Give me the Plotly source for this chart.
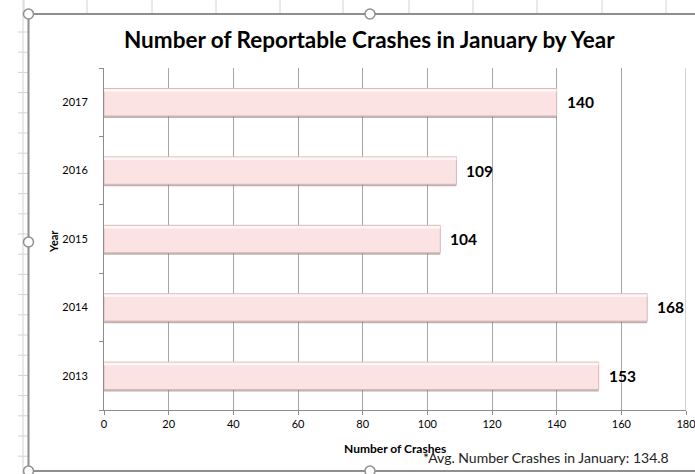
import plotly.graph_objects as go

# Reportable crashes in January, per year
years = ["2013", "2014", "2015", "2016", "2017"]
crashes = [153, 168, 104, 109, 140]
x_ticks = [0, 20, 40, 60, 80, 100, 120, 140, 160, 180]

avg_crashes = sum(crashes) / len(crashes)

W, H = 695, 474
FONT = "Lato"
X_MAX = 180


def px(x):
    return x / W


def py(y):
    return 1 - y / H


fig = go.Figure()

# soft drop shadow under each bar
fig.add_trace(go.Bar(
    y=years, x=crashes, orientation="h",
    width=0.4, offset=-0.23,
    marker=dict(color="rgba(140,115,115,0.55)", line=dict(width=0)),
    hoverinfo="skip", showlegend=False,
))
# main bar body
fig.add_trace(go.Bar(
    y=years, x=crashes, orientation="h",
    width=0.4, offset=-0.2,
    marker=dict(color="#fce3e3", line=dict(color="#d9b9b9", width=1)),
    hoverinfo="skip", showlegend=False,
))
# light highlight along the top edge
fig.add_trace(go.Bar(
    y=years, x=crashes, orientation="h",
    width=0.035, offset=0.155,
    marker=dict(color="#fff7f7", line=dict(width=0)),
    hoverinfo="skip", showlegend=False,
))

shapes = []
grid_gray = "#d4d4d4"

# worksheet cell lines around the chart object
for gx in [24, 87, 152, 216, 280, 343, 409, 473, 537, 602, 666]:
    shapes.append(dict(type="line", xref="paper", yref="paper",
                       x0=px(gx), x1=px(gx), y0=py(0), y1=py(13),
                       line=dict(color=grid_gray, width=1)))
shapes.append(dict(type="line", xref="paper", yref="paper",
                   x0=px(23), x1=px(23), y0=py(0), y1=py(H),
                   line=dict(color=grid_gray, width=1)))
k = 0
while 32 + 20.2 * k < H:
    gy = 32 + 20.2 * k
    shapes.append(dict(type="line", xref="paper", yref="paper",
                       x0=px(18), x1=px(28), y0=py(gy), y1=py(gy),
                       line=dict(color=grid_gray, width=1)))
    k += 1

# closing gridline at the right end of the value axis
shapes.append(dict(type="line", xref="x", yref="y domain",
                   x0=X_MAX, x1=X_MAX, y0=0, y1=1,
                   line=dict(color="#a6a6a6", width=1), layer="below"))

# chart object frame
shapes.append(dict(type="rect", xref="paper", yref="paper",
                   x0=px(28.5), x1=px(W + 20), y0=py(471), y1=py(14),
                   line=dict(color="#8f8f8f", width=2), fillcolor="rgba(0,0,0,0)",
                   layer="above"))

# selection handles
r = 5
for hx, hy in [(28.5, 14), (370, 14), (28.5, 242), (28.5, 471), (370, 471)]:
    shapes.append(dict(type="circle", xref="paper", yref="paper",
                       x0=px(hx - r), x1=px(hx + r), y0=py(hy + r), y1=py(hy - r),
                       line=dict(color="#8f8f8f", width=1.5), fillcolor="white",
                       layer="above"))

annotations = [
    dict(text="<b>Number of Reportable Crashes in January by Year</b>",
         xref="paper", yref="paper", x=px(369), y=py(40),
         showarrow=False, font=dict(family=FONT, size=22.5, color="#000000"),
         xanchor="center", yanchor="middle"),
    dict(text="<b>Year</b>", xref="paper", yref="paper", x=px(53), y=py(242),
         showarrow=False, textangle=-90, font=dict(family=FONT, size=11, color="#000000"),
         xanchor="center", yanchor="middle"),
    dict(text="<b>Number of Crashes</b>", xref="paper", yref="paper", x=px(395), y=py(448),
         showarrow=False, font=dict(family=FONT, size=12, color="#000000"),
         xanchor="center", yanchor="middle"),
    dict(text=f"*Avg. Number Crashes in January: {avg_crashes:.1f}",
         xref="paper", yref="paper", x=px(421), y=py(457),
         showarrow=False, font=dict(family=FONT, size=14, color="#222222"),
         xanchor="left", yanchor="middle"),
]

# value labels just past the end of each bar (category index on the y axis)
for i, v in enumerate(crashes):
    annotations.append(dict(
        text=f"<b>{v}</b>", x=v, y=i, xref="x", yref="y",
        xanchor="left", yanchor="middle", xshift=8, showarrow=False,
        font=dict(family=FONT, size=15.5, color="#000000"),
    ))

fig.update_layout(
    width=W, height=H,
    margin=dict(l=0, r=0, t=0, b=0),
    paper_bgcolor="white", plot_bgcolor="white",
    barmode="overlay",
    font=dict(family=FONT),
    shapes=shapes,
    annotations=annotations,
    xaxis=dict(
        domain=[px(104), px(686)], range=[0, X_MAX],
        tickvals=x_ticks, ticktext=[str(t) for t in x_ticks],
        showgrid=True, gridcolor="#a6a6a6", gridwidth=1,
        showline=True, linecolor="#8c8c8c", linewidth=1,
        ticks="outside", ticklen=4, tickcolor="#8c8c8c",
        tickfont=dict(family=FONT, size=11, color="#000000"),
        ticklabeloverflow="allow", automargin=False,
        zeroline=False, fixedrange=True,
    ),
    yaxis=dict(
        domain=[py(410), py(68)],
        type="category", categoryorder="array", categoryarray=years,
        range=[-0.5, len(years) - 0.5],
        showgrid=False,
        showline=True, linecolor="#8c8c8c", linewidth=1,
        ticks="outside", ticklen=4, tickcolor="#8c8c8c", tickson="boundaries",
        tickfont=dict(family=FONT, size=11, color="#000000"),
        ticklabelstandoff=13, automargin=False,
        fixedrange=True,
    ),
)

fig.write_html("out.html")
